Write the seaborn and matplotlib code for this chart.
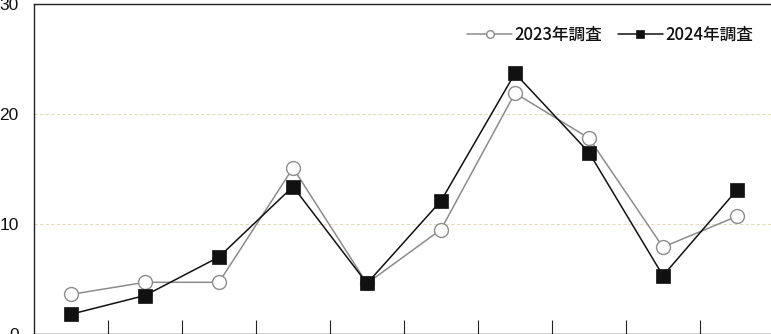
import matplotlib
matplotlib.use("Agg")
import matplotlib.pyplot as plt
import pandas as pd
import seaborn as sns

# data
categories = list(range(1, 11))
survey_2023 = [3.6, 4.7, 4.7, 15.1, 4.6, 9.5, 21.9, 17.8, 7.9, 10.7]
survey_2024 = [1.8, 3.5, 7.0, 13.4, 4.6, 12.1, 23.7, 16.5, 5.3, 13.1]
series_names = ['2023年調査', '2024年調査']
y_ticks = [0, 10, 20, 30]

df = pd.DataFrame({
    'idx': list(range(len(categories))) * 2,
    'value': survey_2023 + survey_2024,
    'series': [series_names[0]] * len(categories) + [series_names[1]] * len(categories),
})

sns.set_theme(style="white")
plt.rcParams['font.family'] = ['Liberation Sans', 'Noto Sans CJK JP', 'DejaVu Sans']

fig = plt.figure(figsize=(7.71, 3.34), dpi=100)
# axes runs a little past the right and bottom edge, as in the reference
ax = fig.add_axes([34 / 771, 0.0, 740 / 771, 330 / 334])

sns.lineplot(data=df[df.series == series_names[0]], x='idx', y='value', ax=ax,
             color='#8c8c8c', linewidth=1.1, marker='o', markersize=10,
             markerfacecolor='white', markeredgecolor='#8c8c8c', markeredgewidth=1.0,
             label=series_names[0], zorder=3)
sns.lineplot(data=df[df.series == series_names[1]], x='idx', y='value', ax=ax,
             color='#111111', linewidth=1.1, marker='s', markersize=10,
             markerfacecolor='#111111', markeredgecolor='#111111', markeredgewidth=0.5,
             label=series_names[1], zorder=4)

ax.set_xlim(-0.5, len(categories) - 0.5)
ax.set_ylim(0, 30)
ax.set_xticks([i + 0.5 for i in range(len(categories) - 1)])
ax.set_xticklabels([])
ax.set_yticks(y_ticks)
ax.set_yticklabels([str(t) for t in y_ticks], fontsize=12.5, color='#111111')
ax.tick_params(axis='x', direction='in', length=10, width=0.8, color='#222222', bottom=True)
ax.tick_params(axis='y', length=0, pad=11)
ax.set_xlabel('')
ax.set_ylabel('')

for gy in [10, 20]:
    ax.axhline(gy, color='#e2dcbc', linestyle=(0, (3, 2)), linewidth=0.8, zorder=1)

for s in ['left', 'top', 'bottom', 'right']:
    ax.spines[s].set_color('#222222')
    ax.spines[s].set_linewidth(1.0)

leg = ax.legend(loc='upper right', bbox_to_anchor=(0.985, 0.965), ncol=2, frameon=False,
                fontsize=12, markerscale=0.55, handlelength=2.7, columnspacing=0.9,
                handletextpad=0.15, borderaxespad=0.2)
for t in leg.get_texts():
    t.set_family(['Noto Sans CJK JP', 'DejaVu Sans'])
    t.set_fontweight('medium')
    t.set_color('#111111')

fig.savefig('out.png', dpi=100)
